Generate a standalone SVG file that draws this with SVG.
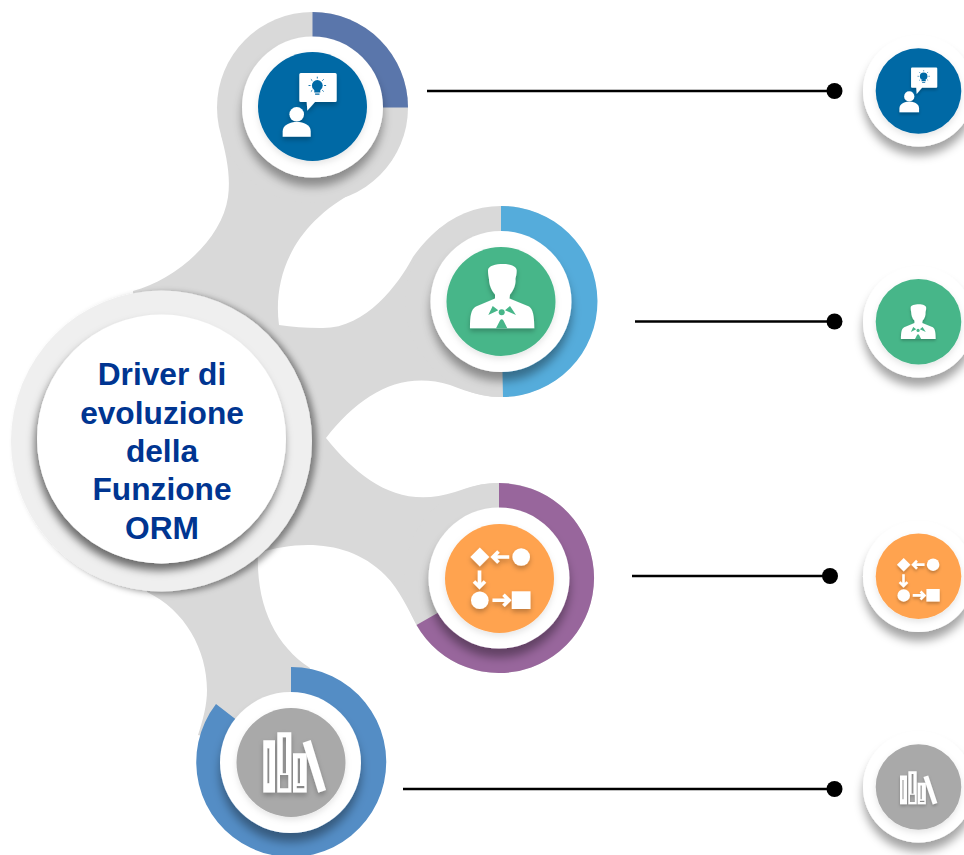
<svg xmlns="http://www.w3.org/2000/svg" width="964" height="855" viewBox="0 0 964 855">
<style>
.gray{fill:#d9d9d9}
.halo{fill:#fff;filter:url(#haloShadow)}
.disc{filter:url(#discShadow)}
.ic{fill:#fff}
.ln{stroke:#000;stroke-width:2.5;fill:none}
.dot{fill:#000}
.arr{fill:none;stroke:#fff;stroke-width:3.6}
.title{font-family:"Liberation Sans",Arial,sans-serif;font-weight:700;font-size:31.7px;fill:#003591;text-anchor:middle}
</style>
<defs>
<filter id="haloShadow" x="-30%" y="-30%" width="160%" height="170%"><feDropShadow dx="0" dy="9" stdDeviation="5" flood-color="#000" flood-opacity="0.36"/></filter>
<filter id="discShadow" x="-20%" y="-20%" width="140%" height="140%"><feDropShadow dx="0" dy="3" stdDeviation="3" flood-color="#000" flood-opacity="0.1"/></filter>
<filter id="iconShadow" x="-30%" y="-30%" width="160%" height="170%"><feDropShadow dx="0" dy="3" stdDeviation="2.5" flood-color="#000" flood-opacity="0.25"/></filter>
<filter id="outerShadow" x="-20%" y="-20%" width="140%" height="140%"><feDropShadow dx="5" dy="2" stdDeviation="3" flood-color="#000" flood-opacity="0.42"/></filter>
<filter id="innerShadow" x="-20%" y="-20%" width="140%" height="140%"><feDropShadow dx="-2" dy="7" stdDeviation="4" flood-color="#000" flood-opacity="0.55"/></filter>
<g id="iconIdea" filter="url(#iconShadow)">
<path class="ic" d="M-11.7-33.5H22.7Q24.2-33.5 24.2-32V-6Q24.2-4.5 22.7-4.5H2.5L-5.2 4.2-5.8-4.5H-11.7Q-13.2-4.5-13.2-6V-32Q-13.2-33.5-11.7-33.5Z"/>
<circle cx="4.8" cy="-21" r="5.4" fill="#0069a5"/>
<path d="M1.8-16.5H7.8V-14H1.8ZM2.6-13H7V-11.8H2.6Z" fill="#0069a5"/>
<path d="M4.8-29.8V-28M-4-21H-2M11.6-21H13.6M-1.6-27.2-.2-25.8M11.2-27.2 9.8-25.8M-1.6-15-.2-16.2M11.2-15 9.8-16.2" stroke="#0069a5" stroke-width="0.9" fill="none"/>
<circle class="ic" cx="-15.8" cy="7.8" r="7.3"/>
<path class="ic" d="M-29.8 30.2V25C-29.8 18-22 15.5-15.8 15.5-9 15.5-1.8 18-1.8 25V30.2Z"/>
</g>
<g id="iconMan" filter="url(#iconShadow)">
<path class="ic" d="M-13-31C-13-36-5-37.5 2-37.5 10-37.5 15.7-35 15.7-31 15.7-26 14.5-24 14.5-22 15-18 13-11 9-7L8.5-3 28 5C32 8 33.3 14 33.3 26.8H-31C-31 14-30 8-25 5L-6-3-6-7C-10-11-12-18-12-22-12-24-13-26-13-31Z"/>
<path fill="#47b689" d="M-12.7 13.5-8.3 4.5-2.7 8.8ZM15 13.5 9 4.5 4 8.8ZM-5 26.8-1 19Q.7 16.5 2.4 19L6.3 26.8Z"/>
<circle cx="0.7" cy="10.8" r="3" fill="#47b689"/>
</g>
<g id="iconFlow" filter="url(#iconShadow)">
<path class="ic" d="M-19.7-31-10.2-21.5-19.7-12-29.2-21.5Z"/>
<circle class="ic" cx="21.7" cy="-21.5" r="8.8"/>
<path class="arr" d="M9.7-21.5H-6.5M-1-27-6.5-21.5-1-16"/>
<path class="arr" d="M-20-8V8.5M-25.5 3-20 8.5-14.5 3"/>
<circle class="ic" cx="-19.7" cy="21.8" r="8.8"/>
<path class="arr" d="M-7 21.8H9.5M4 16.3 9.5 21.8 4 27.3"/>
<rect class="ic" x="12.3" y="12.8" width="18.7" height="17.7"/>
</g>
<g id="iconBooks" filter="url(#iconShadow)">
<path class="ic" fill-rule="evenodd" d="M-27.7-22.2H-16V30.1H-27.7ZM-23.7-14.2V20.8H-21.7V-14.2Z"/>
<path class="ic" fill-rule="evenodd" d="M-13.7-30.2H.3V30.1H-13.7ZM-8.3-25.2V10.8H-5V-25.2ZM-11 12.5V25.8H-2.7V12.5Z"/>
<path class="ic" fill-rule="evenodd" d="M2-9.2H15.7V30.1H2ZM6.7-4.2V20.8H9V-4.2ZM5.7 23.5V25.8H13.4V23.5Z"/>
<path class="ic" d="M11.7-19.8 19.7-22.5 35 27.5 27.3 30.2Z"/>
</g>
</defs>
<rect width="964" height="855" fill="#fff"/>
<g id="backdrop">
<path class="gray" d="M221 135C226 155 231 175 228 197 222 240 175 280 133 291L147 592C185 610 207 650 207 690 207 705 203 720 198 735L291 762 310 668C275 645 256 605 258 553 300 540 350 540 385 575 400 590 408 610 417 625L499 578V483C480 483 470 487 455 492 400 510 360 480 326 438 360 395 400 370 450 385 470 393 485 397 503 397L501 301 440 228C428 238 420 247 413 257 398 285 365 330 320 328 305 328 292 327 279 325 273 280 290 225 358 190 372 183 385 170 395 155L312 107Z"/>
<circle class="gray" cx="312.5" cy="107.5" r="95.5"/>
<circle class="gray" cx="501" cy="301.5" r="95.5"/>
<circle class="gray" cx="499" cy="578" r="95"/>
</g>
<g id="connectors">
<path class="ln" d="M427 91H834"/><circle class="dot" cx="834.5" cy="91" r="8"/>
<path class="ln" d="M635 321.5H834"/><circle class="dot" cx="834.5" cy="321.5" r="8"/>
<path class="ln" d="M632 576H830"/><circle class="dot" cx="830" cy="576" r="8"/>
<path class="ln" d="M403 789H834"/><circle class="dot" cx="834.5" cy="789" r="8"/>
</g>
<g id="node-1">
<path fill="#5a76ab" d="M312.5 107.5V12A95.5 95.5 0 0 1 408 107.5Z"/>
<circle class="halo" cx="312.5" cy="107" r="70.5"/>
<circle class="disc" cx="312.5" cy="106.5" r="54.5" fill="#0069a5"/>
<use href="#iconIdea" transform="translate(312.5 106.5)"/>
</g>
<g id="node-2">
<path fill="#55acdb" d="M501 301.5V206A95.5 95.5 0 0 1 503 397Z"/>
<circle class="halo" cx="501" cy="301.5" r="70.5"/>
<circle class="disc" cx="501" cy="301.5" r="54.5" fill="#47b689"/>
<use href="#iconMan" transform="translate(501 301.5)"/>
</g>
<g id="node-3">
<path fill="#98669c" d="M499 578V483A95 95 0 1 1 416.5 625Z"/>
<circle class="halo" cx="499" cy="578" r="70.5"/>
<circle class="disc" cx="499.5" cy="578.5" r="54.5" fill="#ffa34f"/>
<use href="#iconFlow" transform="translate(499.5 578.5)"/>
</g>
<g id="node-4">
<path fill="#548dc5" d="M291 762V667A95 95 0 1 1 216 704Z"/>
<circle class="halo" cx="290.5" cy="762.5" r="70.5"/>
<circle class="disc" cx="291" cy="762.5" r="54.5" fill="#a9a9a9"/>
<use href="#iconBooks" transform="translate(291 762.5)"/>
</g>
<g id="node-center">
<circle cx="161.5" cy="441" r="150.5" fill="#efefef" filter="url(#outerShadow)"/>
<circle cx="161.5" cy="439" r="124.5" fill="#fff" filter="url(#innerShadow)"/>
<text class="title" x="162" y="384.7">Driver di</text>
<text class="title" x="162" y="423.5">evoluzione</text>
<text class="title" x="162" y="462">della</text>
<text class="title" x="162" y="500">Funzione</text>
<text class="title" x="162" y="538.5">ORM</text>
</g>
<g id="detail-1">
<circle class="halo" cx="918.5" cy="91" r="55.5"/>
<circle class="disc" cx="918.5" cy="91" r="42.8" fill="#0069a5"/>
<use href="#iconIdea" transform="translate(920.3 91) scale(.7)"/>
</g>
<g id="detail-2">
<circle class="halo" cx="918.5" cy="322" r="55.5"/>
<circle class="disc" cx="918.5" cy="321.7" r="42.8" fill="#47b689"/>
<use href="#iconMan" transform="translate(917.7 324.6) scale(.54)"/>
</g>
<g id="detail-3">
<circle class="halo" cx="918.5" cy="576.5" r="55.5"/>
<circle class="disc" cx="918.5" cy="576.3" r="42.8" fill="#ffa34f"/>
<use href="#iconFlow" transform="translate(917.7 579.9) scale(.71)"/>
</g>
<g id="detail-4">
<circle class="halo" cx="918.5" cy="787" r="55.5"/>
<circle class="disc" cx="918.5" cy="787" r="42.8" fill="#a9a9a9"/>
<use href="#iconBooks" transform="translate(916.5 787.8) scale(.595 .55)"/>
</g>
</svg>
